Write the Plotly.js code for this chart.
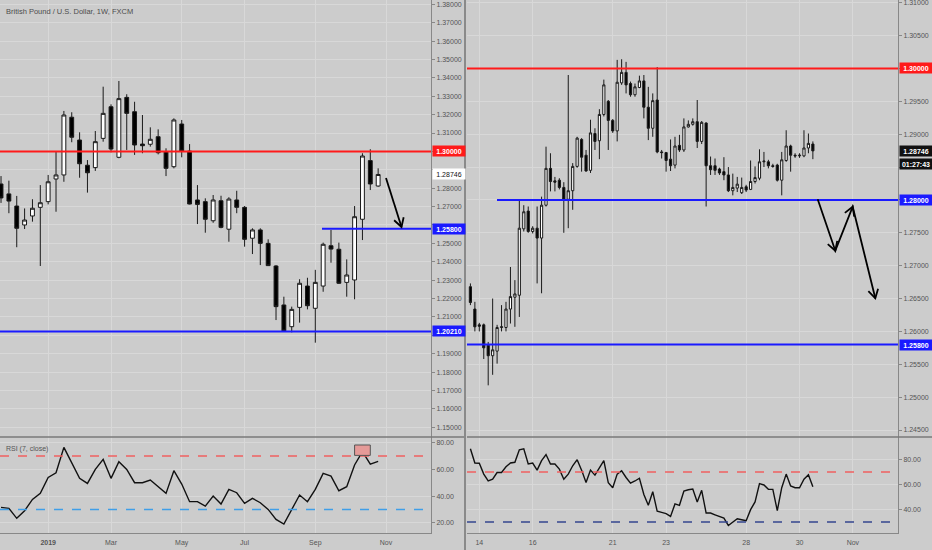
<!DOCTYPE html>
<html><head><meta charset="utf-8">
<script src="https://cdn.plot.ly/plotly-3.0.1.min.js"></script>
<style>html,body{margin:0;padding:0;background:#cccccc;}#chart{width:932px;height:550px;}</style>
</head><body><div id="chart"></div>
<script>
// ---------- LEFT PANEL: GBPUSD weekly ----------
const leftDates = ['2018-11-26','2018-12-03','2018-12-10','2018-12-17','2018-12-24','2018-12-31',
 '2019-01-07','2019-01-14','2019-01-21','2019-01-28','2019-02-04','2019-02-11','2019-02-18','2019-02-25',
 '2019-03-04','2019-03-11','2019-03-18','2019-03-25','2019-04-01','2019-04-08','2019-04-15','2019-04-22','2019-04-29',
 '2019-05-06','2019-05-13','2019-05-20','2019-05-27','2019-06-03','2019-06-10','2019-06-17','2019-06-24',
 '2019-07-01','2019-07-08','2019-07-15','2019-07-22','2019-07-29','2019-08-05','2019-08-12','2019-08-19','2019-08-26',
 '2019-09-02','2019-09-09','2019-09-16','2019-09-23','2019-09-30','2019-10-07','2019-10-14','2019-10-21','2019-10-28'];
const leftOpen  = [1.2823,1.2769,1.2703,1.2600,1.2649,1.2696,1.2727,1.2850,1.2872,1.3186,1.3062,1.2925,1.2912,1.3071,1.3243,1.2968,1.3294,1.3216,1.3040,1.3039,1.3080,1.2999,1.2917,1.3149,1.3002,1.2736,1.2727,1.2623,1.2732,1.2577,1.2736,1.2696,1.2528,1.2573,1.2500,1.2377,1.2165,1.2047,1.2152,1.2268,1.2147,1.2268,1.2487,1.2468,1.2288,1.2301,1.2631,1.2950,1.2812];
const leftHigh  = [1.2866,1.2841,1.2758,1.2690,1.2740,1.2817,1.2872,1.2999,1.3220,1.3213,1.3104,1.2953,1.3111,1.3352,1.3256,1.3383,1.3311,1.3270,1.3198,1.3131,1.3120,1.3017,1.3180,1.3171,1.3040,1.2817,1.2745,1.2763,1.2759,1.2751,1.2786,1.2703,1.2582,1.2582,1.2522,1.2382,1.2210,1.2156,1.2305,1.2313,1.2356,1.2504,1.2573,1.2504,1.2413,1.2703,1.2990,1.3012,1.2908];
const leftLow   = [1.2720,1.2664,1.2479,1.2578,1.2618,1.2377,1.2712,1.2672,1.2835,1.3050,1.2857,1.2776,1.2894,1.3053,1.2995,1.2963,1.3008,1.2981,1.2990,1.3026,1.2984,1.2866,1.2908,1.2968,1.2712,1.2605,1.2558,1.2612,1.2582,1.2509,1.2664,1.2482,1.2442,1.2382,1.2377,1.2083,1.2021,1.2016,1.2069,1.2141,1.1960,1.2237,1.2395,1.2279,1.2210,1.2196,1.2518,1.2790,1.2808];
const leftClose = [1.2747,1.2730,1.2582,1.2627,1.2691,1.2721,1.2835,1.2872,1.3198,1.3077,1.2933,1.2884,1.3053,1.3207,1.3013,1.3287,1.3207,1.3035,1.3031,1.3066,1.2993,1.2908,1.3171,1.3002,1.2714,1.2712,1.2631,1.2736,1.2587,1.2741,1.2696,1.2522,1.2573,1.2500,1.2379,1.2156,1.2024,1.2141,1.2283,1.2161,1.2288,1.2495,1.2469,1.2283,1.2328,1.2645,1.2975,1.2823,1.28746];
const leftRSI   = [31.5,30.8,23.3,29.0,37.5,42.0,54.0,57.5,76.5,64.5,53.3,49.5,60.0,67.5,53.3,65.8,60.0,50.0,50.0,52.0,47.0,42.0,59.0,49.0,35.8,35.8,32.5,40.0,34.0,45.0,42.5,34.5,38.3,35.0,30.0,22.5,19.0,29.5,40.8,35.8,45.0,57.0,55.0,44.0,47.0,63.3,73.3,64.0,66.0];
const leftTickVals = ['2019-01-07','2019-03-04','2019-05-06','2019-07-01','2019-09-02','2019-11-04'];
const leftTickText = ['<b>2019</b>','Mar','May','Jul','Sep','Nov'];
// price tick labels shown (the ones hidden under the level tags are left out)
const leftPriceTicks = [1.15,1.16,1.17,1.18,1.19,1.21,1.22,1.23,1.24,1.25,1.27,1.28,1.31,1.32,1.33,1.34,1.35,1.36,1.37,1.38];
const leftLevels = {red:1.30, blueTop:1.258, blueBottom:1.2021, last:1.28746};

// ---------- RIGHT PANEL: GBPUSD 4H ----------
const rightFullDays = ['2019-10-14','2019-10-15','2019-10-16','2019-10-17','2019-10-18','2019-10-21','2019-10-22','2019-10-23','2019-10-24','2019-10-25','2019-10-28','2019-10-29'];
const rightTimes = ['2019-10-11 16:00','2019-10-11 20:00'];
rightFullDays.forEach(d => ['00:00','04:00','08:00','12:00','16:00','20:00'].forEach(h => rightTimes.push(d + ' ' + h)));
['00:00','04:00','08:00','12:00'].forEach(h => rightTimes.push('2019-10-30 ' + h));
const rightOpen  = [1.2668,1.2634,1.2610,1.2610,1.2579,1.2563,1.2570,1.2606,1.2606,1.2634,1.2652,1.2655,1.2756,1.2783,1.2752,1.2757,1.2742,1.2792,1.2848,1.2829,1.2830,1.2819,1.2801,1.2814,1.2851,1.2892,1.2868,1.2845,1.2901,1.2890,1.2930,1.2950,1.2921,1.2905,1.2978,1.2994,1.2977,1.2960,1.2971,1.2981,1.2941,1.2909,1.2952,1.2873,1.2872,1.2862,1.2853,1.2883,1.2876,1.2911,1.2915,1.2919,1.2889,1.2917,1.2852,1.2852,1.2847,1.2843,1.2838,1.2814,1.2818,1.2811,1.2820,1.2816,1.2828,1.2833,1.2858,1.2858,1.2852,1.2853,1.2830,1.2860,1.2882,1.2868,1.2867,1.2867,1.2879,1.2885];
const rightHigh  = [1.2673,1.2645,1.2613,1.2612,1.2584,1.2650,1.2610,1.2640,1.2645,1.2698,1.2678,1.2801,1.2792,1.2790,1.2760,1.2790,1.2805,1.2881,1.2871,1.2835,1.2833,1.2827,1.2990,1.2856,1.2896,1.2894,1.2876,1.2922,1.2909,1.2938,1.2983,1.2952,1.2923,1.3013,1.3014,1.3010,1.2980,1.2977,1.2989,1.2990,1.2972,1.2962,1.3002,1.2876,1.2873,1.2892,1.2896,1.2899,1.2924,1.2921,1.2924,1.2952,1.2920,1.2918,1.2866,1.2863,1.2849,1.2865,1.2850,1.2840,1.2835,1.2834,1.2823,1.2860,1.2851,1.2877,1.2873,1.2861,1.2855,1.2855,1.2873,1.2906,1.2884,1.2871,1.2871,1.2906,1.2901,1.2889];
const rightLow   = [1.2640,1.2600,1.2600,1.2558,1.2518,1.2534,1.2551,1.2600,1.2600,1.2612,1.2607,1.2622,1.2752,1.2750,1.2749,1.2673,1.2658,1.2790,1.2813,1.2813,1.2816,1.2750,1.2757,1.2785,1.2849,1.2843,1.2843,1.2841,1.2876,1.2862,1.2927,1.2876,1.2902,1.2889,1.2975,1.2962,1.2957,1.2957,1.2970,1.2924,1.2891,1.2896,1.2871,1.2863,1.2843,1.2844,1.2848,1.2873,1.2873,1.2910,1.2913,1.2879,1.2885,1.2790,1.2838,1.2838,1.2838,1.2830,1.2812,1.2807,1.2812,1.2809,1.2812,1.2815,1.2825,1.2830,1.2850,1.2848,1.2849,1.2828,1.2807,1.2858,1.2843,1.2864,1.2864,1.2865,1.2871,1.2862];
const rightClose = [1.2644,1.2607,1.2608,1.2575,1.2563,1.2572,1.2606,1.2607,1.2634,1.2653,1.2657,1.2757,1.2782,1.2752,1.2757,1.2742,1.2792,1.2848,1.2828,1.2827,1.2819,1.2801,1.2814,1.2851,1.2894,1.2865,1.2844,1.2902,1.2889,1.2930,1.2975,1.2921,1.2905,1.2979,1.2994,1.2975,1.2960,1.2972,1.2981,1.2941,1.2909,1.2951,1.2873,1.2872,1.2860,1.2852,1.2882,1.2876,1.2911,1.2915,1.2919,1.2889,1.2918,1.2852,1.2846,1.2845,1.2841,1.2838,1.2814,1.2819,1.2824,1.2819,1.2815,1.2828,1.2834,1.2858,1.2859,1.2852,1.2851,1.2830,1.2861,1.2882,1.2868,1.2867,1.2868,1.2879,1.2886,1.28746];
const rightRSI   = [88.6,77.2,77.0,68.3,62.8,64.2,69.6,69.6,74.2,77.2,77.8,87.8,88.6,76.4,77.2,71.5,79.1,84.0,76.4,76.4,72.3,64.2,68.3,75.0,79.9,71.5,61.5,71.5,67.5,73.7,79.1,61.5,57.4,68.3,71.0,65.6,61.0,62.8,65.0,52.0,43.3,54.2,38.5,37.6,36.6,34.4,44.4,43.3,54.7,55.8,56.3,46.0,55.3,37.1,37.1,35.7,34.4,33.0,27.1,29.8,32.5,31.7,30.9,39.8,46.0,60.7,59.6,56.1,56.1,39.0,57.4,68.3,58.8,57.4,57.4,64.2,67.7,58.2];
const rightTickVals = ['2019-10-14','2019-10-16','2019-10-21','2019-10-23','2019-10-28','2019-10-30','2019-11-01'];
const rightTickText = ['14','16','21','23','28','30','Nov'];
const rightPriceTicks = [1.245,1.25,1.255,1.26,1.265,1.27,1.275,1.29,1.295,1.305,1.31];
const rightLevels = {red:1.30, blueTop:1.28, blueBottom:1.258, last:1.28746};
const rsiLevels = {over:70, under:30};

// ---------- layout helpers (pixel -> paper) ----------
const MB = 16;
const PW = 898, PH = 550 - MB;
const px = x => x / PW;
const py = y => 1 - y / PH;
const BG = '#cccccc', GRID = '#d8d8d8', AXC = '#888888', TXT = '#555555';
const FONT = 'Liberation Sans, Arial, sans-serif';

const candleStyle = {
  increasing: {line: {color: '#1a1a1a', width: 1}, fillcolor: '#ffffff'},
  decreasing: {line: {color: '#1a1a1a', width: 1}, fillcolor: '#000000'}
};

const traces = [
  Object.assign({type: 'candlestick', x: leftDates, open: leftOpen, high: leftHigh, low: leftLow, close: leftClose,
    xaxis: 'x', yaxis: 'y', hoverinfo: 'skip', showlegend: false}, candleStyle),
  {type: 'scatter', mode: 'lines', x: leftDates, y: leftRSI, xaxis: 'x2', yaxis: 'y2',
    line: {color: '#111111', width: 1.4}, hoverinfo: 'skip', showlegend: false},
  Object.assign({type: 'candlestick', x: rightTimes, open: rightOpen, high: rightHigh, low: rightLow, close: rightClose,
    xaxis: 'x3', yaxis: 'y3', hoverinfo: 'skip', showlegend: false}, candleStyle),
  {type: 'scatter', mode: 'lines', x: rightTimes, y: rightRSI, xaxis: 'x4', yaxis: 'y4',
    line: {color: '#111111', width: 1.4}, hoverinfo: 'skip', showlegend: false}
];

const mainDom = [py(437), 1], rsiDom = [py(533), py(437)];
const leftDom = [0, px(431)], rightDom = [px(467), 1];
const leftRange = ['2018-11-25 02:00', '2019-12-14 02:00'];
const rightRange = ['2019-10-11 12:56', '2019-11-04 16:34'];
const tickF = {family: FONT, size: 7, color: TXT};

function yAx(dom, anchor, range, extra) {
  return Object.assign({domain: dom, anchor: anchor, range: range, side: 'right', showgrid: true, gridcolor: GRID,
    zeroline: false, showline: true, linecolor: AXC, linewidth: 1, ticks: 'outside', ticklen: 3, tickcolor: AXC,
    tickfont: tickF, fixedrange: true, ticklabeloverflow: 'allow'}, extra);
}
function xAx(dom, anchor, range, vals, text, showLabels, extra) {
  return Object.assign({domain: dom, anchor: anchor, type: 'date', range: range, tickvals: vals, ticktext: text,
    showticklabels: showLabels, showgrid: true, gridcolor: GRID, zeroline: false, ticks: '', tickfont: tickF,
    ticklabelstandoff: 3, showline: showLabels, linecolor: AXC, rangeslider: {visible: false}, fixedrange: true}, extra);
}

const shapes = [];
function hline(yref, y, x0, x1, color, width, dash) {
  shapes.push({type: 'line', xref: 'paper', yref: yref, x0: x0, x1: x1, y0: y, y1: y,
    line: {color: color, width: width, dash: dash || 'solid'}});
}
// price levels
hline('y', leftLevels.red, 0, px(431), '#ff1a1a', 2);
hline('y', leftLevels.blueBottom, 0, px(431), '#1a1aff', 2);
hline('y', leftLevels.blueTop, px(322), px(431), '#1a1aff', 2);
hline('y3', rightLevels.red, px(467), 1, '#ff1a1a', 2);
hline('y3', rightLevels.blueTop, px(497), 1, '#1a1aff', 2);
hline('y3', rightLevels.blueBottom, px(467), 1, '#1a1aff', 2);
// RSI bands
hline('y2', rsiLevels.over, 0, px(431), '#f06060', 1.5, 'dash');
hline('y2', rsiLevels.under, 0, px(431), '#3f9ee8', 1.5, 'dash');
hline('y4', rsiLevels.over, px(467), 1, '#f06060', 1.5, 'dash');
hline('y4', rsiLevels.under, px(467), 1, '#34458f', 1.5, 'dash');
// overbought marker box
shapes.push({type: 'rect', xref: 'x2', yref: 'y2', x0: '2019-10-07', x1: '2019-10-21', y0: 70.5, y1: 78.3,
  fillcolor: '#e59a98', line: {color: '#555555', width: 1}});
// separators
shapes.push({type: 'line', xref: 'paper', yref: 'paper', x0: 0, x1: px(464), y0: py(437), y1: py(437), line: {color: '#7a7a7a', width: 1.5}});
shapes.push({type: 'line', xref: 'paper', yref: 'paper', x0: px(467), x1: px(932), y0: py(437), y1: py(437), line: {color: '#7a7a7a', width: 1.5}});
shapes.push({type: 'line', xref: 'paper', yref: 'paper', x0: px(465), x1: px(465), y0: py(0), y1: py(550), line: {color: '#8a8a8a', width: 2}});

// hand-drawn arrows
function path(points) {
  return points.map((p, i) => (i ? 'L' : 'M') + px(p[0]).toFixed(5) + ',' + py(p[1]).toFixed(5)).join(' ');
}
function head(from, tip, len) {
  const dx = from[0] - tip[0], dy = from[1] - tip[1], n = Math.hypot(dx, dy);
  const bx = dx / n, by = dy / n, a = Math.PI / 6;
  const r = s => [tip[0] + len * (Math.cos(s * a) * bx - Math.sin(s * a) * by), tip[1] + len * (Math.sin(s * a) * bx + Math.cos(s * a) * by)];
  return [r(1), tip, r(-1)];
}
function drawPath(points) {
  shapes.push({type: 'path', xref: 'paper', yref: 'paper', path: path(points), line: {color: '#000000', width: 1.8}});
}
const la = [[386, 178], [401.5, 227]];
drawPath(la); drawPath(head(la[0], la[1], 10));
const z = [[817.7, 199.3], [835.3, 250.7], [852.7, 206.7], [875.3, 298.3]];
drawPath(z);
drawPath(head(z[0], z[1], 10)); drawPath(head(z[1], z[2], 10)); drawPath(head(z[2], z[3], 10));

// annotations
const annotations = [];
function tag(text, yref, y, xPix, bg, fg, yshift) {
  annotations.push({text: text, xref: 'paper', yref: yref, x: px(xPix), y: y, xanchor: 'left', yanchor: 'middle',
    showarrow: false, bgcolor: bg, font: {family: FONT, size: 7, color: fg}, width: 30, height: 8,
    borderpad: 1, align: 'center', yshift: yshift || 0});
}
tag('<b>1.30000</b>', 'y', leftLevels.red, 431.5, '#ff1a1a', '#ffffff');
tag('1.28746', 'y', leftLevels.last, 431.5, '#ffffff', '#111111');
tag('<b>1.25800</b>', 'y', leftLevels.blueTop, 431.5, '#1a1aff', '#ffffff');
tag('<b>1.20210</b>', 'y', leftLevels.blueBottom, 431.5, '#1a1aff', '#ffffff');
tag('<b>1.30000</b>', 'y3', rightLevels.red, 898.5, '#ff1a1a', '#ffffff');
tag('<b>1.28746</b>', 'y3', rightLevels.last, 898.5, '#111111', '#ffffff');
tag('<b>01:27:43</b>', 'y3', rightLevels.last, 898.5, '#111111', '#ffffff', -13);
tag('<b>1.28000</b>', 'y3', rightLevels.blueTop, 898.5, '#1a1aff', '#ffffff');
tag('<b>1.25800</b>', 'y3', rightLevels.blueBottom, 898.5, '#1a1aff', '#ffffff');
annotations.push({text: 'British Pound / U.S. Dollar, 1W, FXCM', xref: 'paper', yref: 'paper', x: px(4), y: py(11),
  xanchor: 'left', yanchor: 'middle', showarrow: false, font: {family: FONT, size: 7.5, color: '#4d4d4d'}});
annotations.push({text: 'RSI (7, close)', xref: 'paper', yref: 'paper', x: px(4), y: py(449),
  xanchor: 'left', yanchor: 'middle', showarrow: false, font: {family: FONT, size: 7, color: '#555555'}});

const minorGrid = (d, t0) => ({dtick: d, tick0: t0, showgrid: true, gridcolor: GRID, ticks: 'outside', ticklen: 3, tickcolor: AXC});

const layout = {
  width: 932, height: 550, margin: {l: 0, r: 34, t: 0, b: MB, pad: 0},
  paper_bgcolor: BG, plot_bgcolor: BG, showlegend: false, hovermode: false,
  font: {family: FONT, size: 7, color: TXT},
  xaxis:  xAx(leftDom, 'y', leftRange, leftTickVals, leftTickText, false),
  xaxis2: xAx(leftDom, 'y2', leftRange, leftTickVals, leftTickText, true),
  xaxis3: xAx(rightDom, 'y3', rightRange, rightTickVals, rightTickText, false, {rangebreaks: [{bounds: ['sat', 'mon']}]}),
  xaxis4: xAx(rightDom, 'y4', rightRange, rightTickVals, rightTickText, true, {rangebreaks: [{bounds: ['sat', 'mon']}]}),
  yaxis:  yAx(mainDom, 'x', [1.14471, 1.38234], {tickvals: leftPriceTicks, tickformat: '.5f', minor: minorGrid(0.01, 1.15)}),
  yaxis2: yAx(rsiDom, 'x2', [12.3, 84.3], {tickvals: [20, 40, 60, 80], tickformat: '.2f'}),
  yaxis3: yAx(mainDom, 'x3', [1.24394, 1.31041], {tickvals: rightPriceTicks, tickformat: '.5f', minor: minorGrid(0.005, 1.245)}),
  yaxis4: yAx(rsiDom, 'x4', [21.1, 98.06], {tickvals: [40, 60, 80], tickformat: '.2f'}),
  shapes: shapes, annotations: annotations
};
Plotly.newPlot('chart', traces, layout, {staticPlot: true, displayModeBar: false});
</script></body></html>
